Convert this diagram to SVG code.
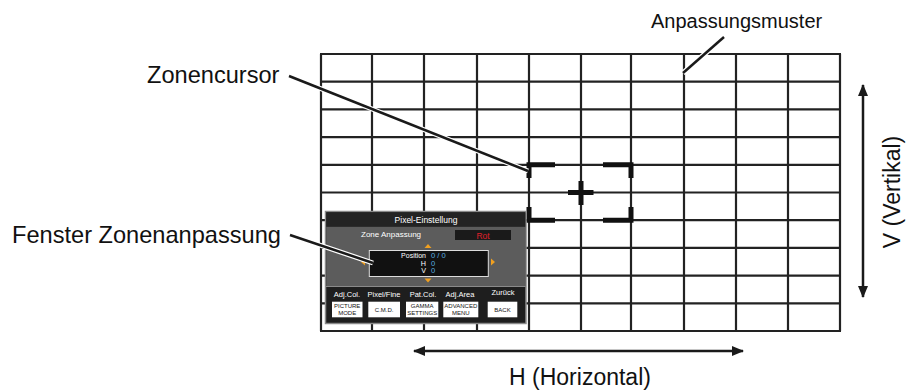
<svg xmlns="http://www.w3.org/2000/svg" width="906" height="390" viewBox="0 0 906 390">
<defs>
<style>
.lbl{font-family:"Liberation Sans",Arial,sans-serif;font-size:23.6px;fill:#111}
.grid line{stroke:#222;stroke-width:2.2}
.halo{stroke:#fff;stroke-width:5;fill:none}
.lead{stroke:#1a1a1a;stroke-width:2.5;fill:none}
.cur{stroke:#111;stroke-width:5;fill:none}
.p{font-family:"Liberation Sans",Arial,sans-serif;fill:#fff}
.b{font-family:"Liberation Sans",Arial,sans-serif;font-size:6px;fill:#111;text-anchor:middle}
.btn{fill:#fff}
.tri{fill:#f0a020}
.num{font-family:"Liberation Sans",Arial,sans-serif;font-size:7.6px;fill:#5aaee0}
</style>
<marker id="ah" viewBox="0 0 12 10" refX="11" refY="5" markerWidth="12" markerHeight="10" markerUnits="userSpaceOnUse" orient="auto-start-reverse">
<path d="M0,0 L12,5 L0,10 Z" fill="#1a1a1a"/>
</marker>
</defs>
<rect width="906" height="390" fill="#fff"/>
<g id="pattern" class="grid">
<line x1="321" y1="54" x2="321" y2="331"/>
<line x1="372" y1="54" x2="372" y2="331"/>
<line x1="424" y1="54" x2="424" y2="331"/>
<line x1="477" y1="54" x2="477" y2="331"/>
<line x1="529" y1="54" x2="529" y2="331"/>
<line x1="581" y1="54" x2="581" y2="331"/>
<line x1="631" y1="54" x2="631" y2="331"/>
<line x1="684" y1="54" x2="684" y2="331"/>
<line x1="736" y1="54" x2="736" y2="331"/>
<line x1="788" y1="54" x2="788" y2="331"/>
<line x1="840" y1="54" x2="840" y2="331"/>
<line x1="320" y1="54" x2="841" y2="54"/>
<line x1="320" y1="81.7" x2="841" y2="81.7"/>
<line x1="320" y1="109.4" x2="841" y2="109.4"/>
<line x1="320" y1="137.1" x2="841" y2="137.1"/>
<line x1="320" y1="164.8" x2="841" y2="164.8"/>
<line x1="320" y1="192.5" x2="841" y2="192.5"/>
<line x1="320" y1="220.2" x2="841" y2="220.2"/>
<line x1="320" y1="247.9" x2="841" y2="247.9"/>
<line x1="320" y1="275.6" x2="841" y2="275.6"/>
<line x1="320" y1="303.3" x2="841" y2="303.3"/>
<line x1="320" y1="331" x2="841" y2="331"/>
</g>
<g id="cursor" class="cur">
<path d="M555,164.8 H529 V178"/>
<path d="M603,164.8 H631 V178"/>
<path d="M529,207 V220.2 H555"/>
<path d="M631,207 V220.2 H603"/>
<path d="M568,192.5 H593.5 M581,181 V205"/>
</g>
<g id="window">
<rect x="325.5" y="211.5" width="200.5" height="112" fill="#1e1e1e" stroke="#8a8a8a" stroke-width="1.5"/>
<rect x="326.3" y="212.3" width="199" height="14.5" fill="#232323"/>
<rect x="326.3" y="226.8" width="199" height="59.5" fill="#5c5c5c"/>
<line x1="326" y1="286.5" x2="525.5" y2="286.5" stroke="#8a8a8a" stroke-width="1"/>
<text class="p" x="426" y="223" font-size="8.5" text-anchor="middle">Pixel-Einstellung</text>
<text class="p" x="361" y="237" font-size="8">Zone Anpassung</text>
<rect x="455" y="230" width="56" height="10" fill="#1a1a1a"/>
<text x="483" y="238.5" font-family="Liberation Sans,Arial,sans-serif" font-size="8.5" fill="#e0202a" text-anchor="middle">Rot</text>
<polygon class="tri" points="424.5,248 431.5,248 428,244"/>
<polygon class="tri" points="424.5,278.5 431.5,278.5 428,282.5"/>
<polygon class="tri" points="491,258.5 491,265.5 495,262"/>
<polygon class="tri" points="365,258.5 365,265.5 361,262"/>
<rect x="369.3" y="250.5" width="119" height="26" fill="#111" stroke="#ddd" stroke-width="1"/>
<text class="p" x="426" y="258.3" font-size="7" text-anchor="end">Position</text>
<text class="p" x="426" y="265.6" font-size="7.2" text-anchor="end">H</text>
<text class="p" x="426" y="273.1" font-size="7.2" text-anchor="end">V</text>
<text class="num" x="431" y="258.3">0 / 0</text>
<text class="num" x="431" y="265.7">0</text>
<text class="num" x="431" y="273.2">0</text>
<text class="p" x="347" y="296.5" font-size="7.5" text-anchor="middle">Adj.Col.</text>
<text class="p" x="384" y="296.5" font-size="7.5" text-anchor="middle">Pixel/Fine</text>
<text class="p" x="423" y="296.5" font-size="7.5" text-anchor="middle">Pat.Col.</text>
<text class="p" x="460" y="296.5" font-size="7.5" text-anchor="middle">Adj.Area</text>
<text class="p" x="503" y="295" font-size="7.5" text-anchor="middle">Zurück</text>
<rect class="btn" x="332" y="301.7" width="30.5" height="15.6"/>
<rect class="btn" x="368.3" y="301.7" width="31.7" height="15.6"/>
<rect class="btn" x="406" y="301.7" width="32.3" height="15.6"/>
<rect class="btn" x="443.3" y="301.7" width="35" height="15.6"/>
<rect class="btn" x="487.7" y="301.7" width="29.6" height="15.6"/>
<text class="b" x="347.2" y="308.3">PICTURE</text>
<text class="b" x="347.2" y="314.8">MODE</text>
<text class="b" x="384.2" y="311.6">C.M.D.</text>
<text class="b" x="422.2" y="308.3">GAMMA</text>
<text class="b" x="422.2" y="314.8">SETTINGS</text>
<text class="b" x="460.8" y="308.3">ADVANCED</text>
<text class="b" x="460.8" y="314.8">MENU</text>
<text class="b" x="502.5" y="311.6">BACK</text>
</g>
<g id="connectors">
<path class="halo" d="M289,76 L528,171"/>
<path class="lead" d="M289,76 L528,171"/>
<path class="halo" d="M290,235 L373,263"/>
<path class="lead" d="M290,235 L373,263"/>
<path class="halo" d="M724,37 L683,73"/>
<path class="lead" d="M724,37 L683,73"/>
<line x1="414" y1="351" x2="743" y2="351" stroke="#1a1a1a" stroke-width="2.5" marker-start="url(#ah)" marker-end="url(#ah)"/>
<line x1="863" y1="85" x2="863" y2="297" stroke="#1a1a1a" stroke-width="2.5" marker-start="url(#ah)" marker-end="url(#ah)"/>
</g>
<g id="labels">
<text class="lbl" x="147" y="83">Zonencursor</text>
<text class="lbl" x="12" y="243">Fenster Zonenanpassung</text>
<text class="lbl" x="651" y="28" style="font-size:20px">Anpassungsmuster</text>
<text class="lbl" x="580" y="385" text-anchor="middle" style="font-size:23px">H (Horizontal)</text>
<text class="lbl" x="900" y="192" text-anchor="middle" transform="rotate(-90 900 192)" style="font-size:23px">V (Vertikal)</text>
</g>
</svg>
